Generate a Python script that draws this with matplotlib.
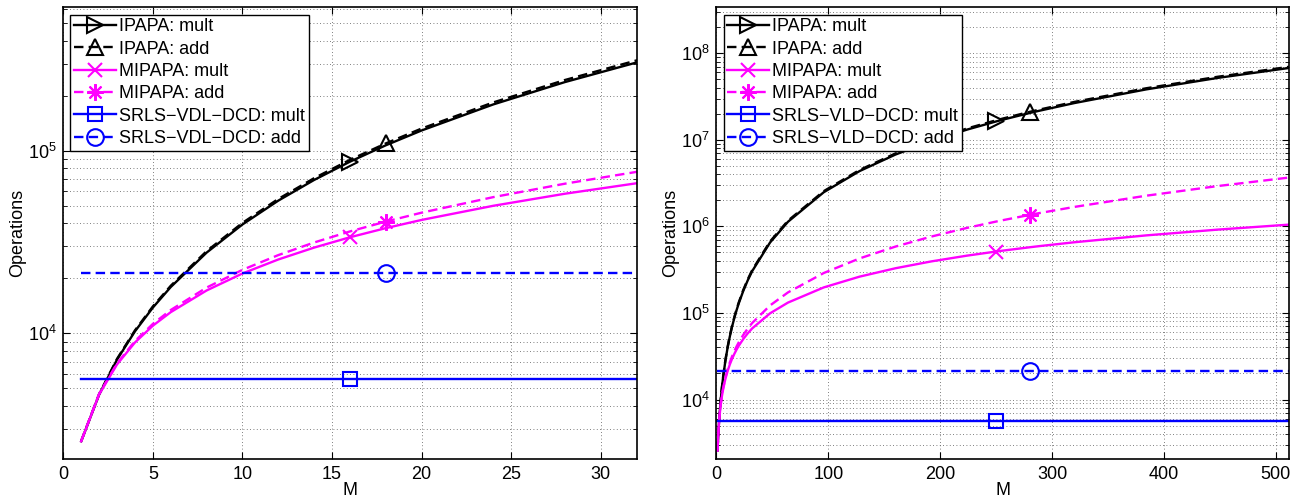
import matplotlib
matplotlib.use("Agg")
import matplotlib.pyplot as plt
from matplotlib.ticker import LogLocator, NullFormatter, MultipleLocator

plt.rcParams["font.family"] = ["Liberation Sans", "DejaVu Sans"]
plt.rcParams["mathtext.fontset"] = "custom"
plt.rcParams["mathtext.rm"] = "Liberation Sans"
plt.rcParams["mathtext.it"] = "Liberation Sans"

# ---- data (filter length 256) ----
M = [1, 2, 3, 4, 5, 6, 8, 10, 12, 14, 16, 18, 20, 24, 28, 32, 48, 64, 96,
     128, 160, 192, 224, 250, 256, 280, 288, 320, 384, 448, 512]

ipapa_mult = [2560, 4608, 7168, 10240, 13824, 17920, 27648, 39424, 53248,
              69120, 87040, 107008, 129024, 179200, 237568, 304128, 652288,
              1131520, 2483200, 4359168, 6759424, 9683968, 13132800,
              16321024, 17105920, 20429824, 21603328, 26625024, 38241280,
              51954688, 67765248]
ipapa_add = [2568, 4640, 7240, 10368, 14024, 18208, 28160, 40224, 54400,
             70688, 89088, 109600, 132224, 183808, 243840, 312320, 670720,
             1164288, 2556928, 4490240, 6964224, 9978880, 13534208,
             16821024, 17630208, 21057024, 22266880, 27444224, 39420928,
             53560320, 69862400]
mipapa_mult = [2560, 4620, 6750, 8900, 11000, 13050, 17150, 21250, 25350,
               29450, 33550, 37650, 41750, 49900, 58100, 66300, 99100,
               131800, 197400, 262900, 328400, 394000, 459500, 512768,
               525000, 574208, 590600, 656100, 787200, 918300, 1049350]
mipapa_add = [2570, 4660, 6840, 9060, 11250, 13410, 17790, 22250, 26790,
              31410, 36110, 40890, 45750, 55660, 65940, 76540, 122140,
              172760, 289560, 426740, 584400, 762640, 961260, 1137768,
              1180360, 1358208, 1420040, 1680100, 2261760, 2925340, 3670790]
srls_mult = [5600] * len(M)
srls_add = [21300] * len(M)

panels = [
    dict(xlim=(0, 32), ylim=(2040, 6.1e5), xstep=5, mark=(16, 18), name="SRLS\u2212VDL\u2212DCD"),
    dict(xlim=(0, 512), ylim=(2040, 3.4e8), xstep=100, mark=(250, 280), name="SRLS\u2212VLD\u2212DCD"),
]

fig = plt.figure(figsize=(12.94, 4.99), dpi=100)
positions = [[0.0489, 0.0796, 0.4431, 0.9058], [0.5536, 0.0796, 0.4428, 0.9058]]
dash = (0, (4.0, 2.2))
lw = 1.7

for pos, p in zip(positions, panels):
    ax = fig.add_axes(pos)
    i_m = M.index(p["mark"][0])
    i_a = M.index(p["mark"][1])
    kw = dict(lw=lw, ms=12, mfc="none", mew=1.5)
    ax.plot(M, ipapa_mult, color="k", ls="-", marker=">", markevery=[i_m], label="IPAPA: mult", **kw)
    ax.plot(M, ipapa_add, color="k", ls=dash, marker="^", markevery=[i_a], label="IPAPA: add", **kw)
    ax.plot(M, mipapa_mult, color="#ff00ff", ls="-", marker="x", markevery=[i_m], label="MIPAPA: mult", lw=lw, ms=10, mew=1.5)
    ax.plot(M, mipapa_add, color="#ff00ff", ls=dash, marker=(8, 2, 0), markevery=[i_a], label="MIPAPA: add", lw=lw, ms=12, mew=1.5)
    ax.plot(M, srls_mult, color="#0000ff", ls="-", marker="s", markevery=[i_m], label=p["name"] + ": mult", lw=lw, ms=10, mfc="none", mew=1.5)
    ax.plot(M, srls_add, color="#0000ff", ls=dash, marker="o", markevery=[i_a], label=p["name"] + ": add", **kw)

    ax.set_yscale("log")
    ax.set_xlim(*p["xlim"])
    ax.set_ylim(*p["ylim"])
    ax.xaxis.set_major_locator(MultipleLocator(p["xstep"]))
    ax.yaxis.set_major_locator(LogLocator(base=10))
    ax.yaxis.set_minor_locator(LogLocator(base=10, subs=range(2, 10)))
    ax.yaxis.set_minor_formatter(NullFormatter())
    ax.tick_params(which="both", direction="in", top=True, right=True, labelsize=13, pad=5)
    ax.tick_params(which="major", length=5, width=0.8)
    ax.tick_params(which="minor", length=3, width=0.6)
    ax.grid(True, which="major", color="#555555", ls=(0, (1, 3)), lw=0.6)
    ax.grid(True, which="minor", axis="y", color="#555555", ls=(0, (1, 3)), lw=0.6)
    for s in ax.spines.values():
        s.set_linewidth(1.2)
    ax.set_xlabel("M", fontsize=13, labelpad=-1)
    ax.set_ylabel("Operations", fontsize=13, labelpad=1)

    leg = ax.legend(loc="upper left", fontsize=13, fancybox=False, framealpha=1,
                    edgecolor="k", handlelength=2.3, handletextpad=0.2,
                    labelspacing=0.3, borderpad=0.2, borderaxespad=0.4, numpoints=1)
    leg.get_frame().set_linewidth(1.0)

fig.savefig("out.png", dpi=100)
